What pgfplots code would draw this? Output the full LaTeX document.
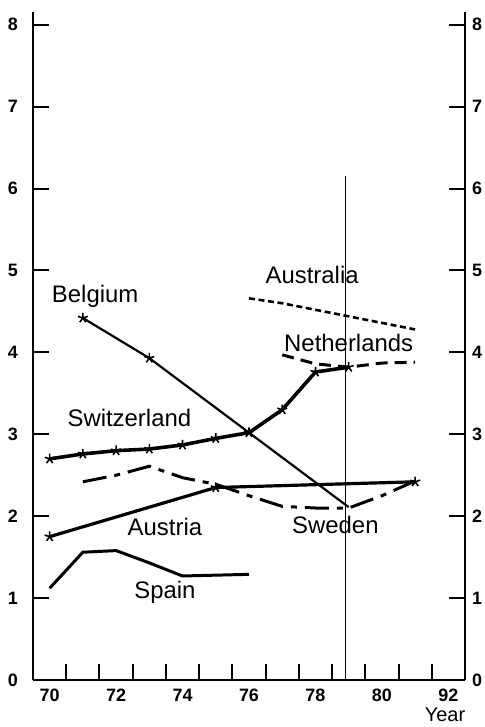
\documentclass[border=0pt]{standalone}
\usepackage{fontspec}
\setmainfont{Liberation Sans}
\usepackage{pgfplots}
\pgfplotsset{compat=1.18}
\begin{document}
\begin{tikzpicture}
\pgfplotsset{
  base/.style={
    scale only axis, width=216bp, height=333.75bp,
    xmin=69.5, xmax=82.5, ymin=0, ymax=8.15,
    tick align=inside,
    major tick length=8bp,
    axis line style={-, line width=0.7pt},
    /pgf/number format/assume math mode=true,
    ticklabel style={font=\fontsize{9}{10}\selectfont\bfseries},
    clip=false,
  }
}
\begin{axis}[base, name=ax,
  axis x line*=bottom, axis y line*=left,
  x axis line style={line width=1.3pt},
  xtick={70.5,71.5,...,81.5}, xticklabels={},
  extra x ticks={70,72,...,82},
  extra x tick labels={70,72,74,76,78,80,92},
  extra x tick style={major tick length=0pt, tick style={draw=none}, tick label style={yshift=-1bp}},
  ytick={0,...,8},
  yticklabel style={xshift=-4bp},
  tick style={line width=1pt, black},
]
% Switzerland
\addplot[black, line width=1.8pt, mark=star, mark size=2.6pt, mark options={line width=0.8pt, solid}]
  coordinates {(70,2.70)(71,2.76)(72,2.80)(73,2.82)(74,2.87)(75,2.95)(76,3.02)(77,3.30)(78,3.76)(79,3.82)};
% Belgium
\addplot[black, line width=1.1pt, mark=star, mark size=2.6pt, mark indices={1,2}, mark options={line width=0.8pt}]
  coordinates {(71,4.42)(73,3.93)(79,2.11)};
% Australia
\addplot[black, line width=1.3pt, dash pattern=on 3bp off 1.8bp]
  coordinates {(76,4.66)(77,4.60)(78,4.52)(79,4.44)(80,4.36)(81,4.28)};
% Netherlands
\addplot[black, line width=1.5pt, dash pattern=on 6bp off 3.5bp]
  coordinates {(77,3.97)(78,3.86)(79,3.82)(80,3.87)(81,3.88)};
% Austria
\addplot[black, line width=1.6pt, mark=star, mark size=2.6pt, mark options={line width=0.8pt}]
  coordinates {(70,1.75)(75,2.35)(81,2.42)};
% Sweden
\addplot[black, line width=1.5pt, dash pattern=on 12bp off 4bp on 3bp off 4bp]
  coordinates {(71,2.42)(72,2.50)(73,2.61)(74,2.47)(75,2.39)(76,2.25)(77,2.12)(78,2.10)(79,2.10)(80,2.25)(81,2.43)};
% Spain
\addplot[black, line width=1.5pt]
  coordinates {(70,1.12)(71,1.56)(72,1.58)(73,1.43)(74,1.27)(75,1.28)(76,1.29)};
% vertical reference line
\addplot[black, line width=0.7pt] coordinates {(78.9,0)(78.9,6.15)};
% labels
\begin{scope}[every node/.style={font=\fontsize{12}{14}\selectfont}]
\node at (axis cs:71.37,4.69) {Belgium};
\node at (axis cs:77.9,4.94) {Australia};
\node at (axis cs:79.0,4.11) {Netherlands};
\node at (axis cs:72.4,3.20) {Switzerland};
\node at (axis cs:73.47,1.87) {Austria};
\node at (axis cs:78.6,1.89) {Sweden};
\node at (axis cs:73.47,1.07) {Spain};
\node[font=\fontsize{10}{12}\selectfont, inner sep=0pt] at (axis cs:81.9,-0.43) {Year};
\end{scope}
\end{axis}
\begin{axis}[base,
  axis x line=none, axis y line*=right,
  ytick={0,...,8},
  tick style={line width=1pt, black},
]
\end{axis}
\pgfresetboundingbox
\path[use as bounding box] ([xshift=-16.5bp,yshift=-23.5bp]ax.south west) rectangle ([xshift=10bp,yshift=6.25bp]ax.north east);
\end{tikzpicture}
\end{document}
